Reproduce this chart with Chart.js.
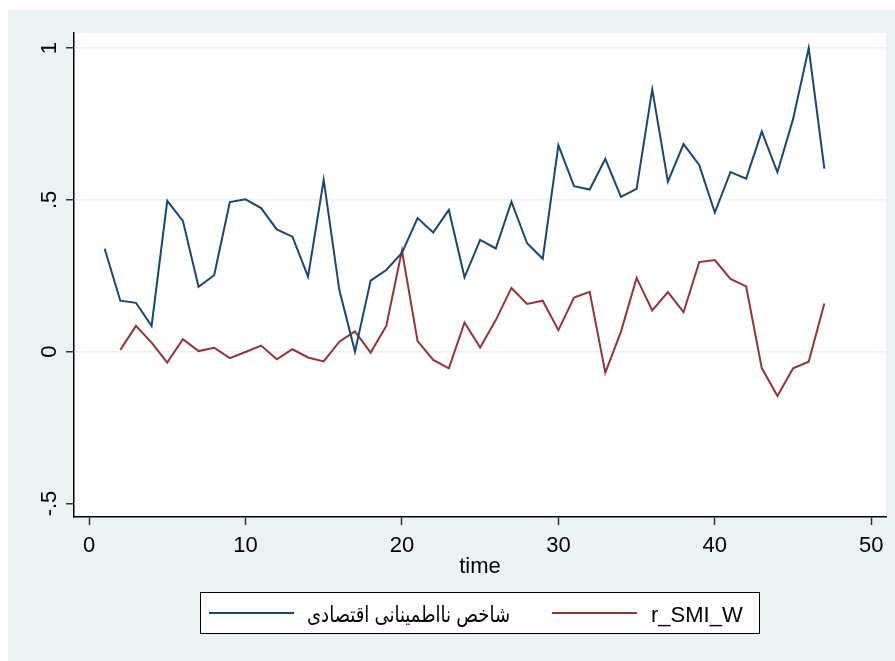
<!DOCTYPE html>
<html>
<head>
<meta charset="utf-8">
<script src="https://cdn.jsdelivr.net/npm/chart.js@4/dist/chart.umd.min.js"></script>
<style>
  body { margin: 0; background: #ffffff; }
  canvas { display: block; }
</style>
</head>
<body>
<canvas id="myChart" width="895" height="661"></canvas>
<script>
var time = [1, 2, 3, 4, 5, 6, 7, 8, 9, 10, 11, 12, 13, 14, 15, 16, 17, 18, 19, 20,
    21, 22, 23, 24, 25, 26, 27, 28, 29, 30, 31, 32, 33, 34, 35, 36, 37, 38, 39, 40,
    41, 42, 43, 44, 45, 46, 47];

var uncertainty = [0.339, 0.168, 0.161, 0.085, 0.497, 0.431, 0.214, 0.252, 0.493, 0.502,
    0.473, 0.403, 0.379, 0.247, 0.566, 0.203, 0.000, 0.234, 0.269, 0.325,
    0.440, 0.393, 0.467, 0.245, 0.368, 0.340, 0.494, 0.357, 0.306, 0.680,
    0.545, 0.534, 0.635, 0.510, 0.536, 0.864, 0.560, 0.684, 0.615, 0.458,
    0.592, 0.570, 0.725, 0.591, 0.766, 1.000, 0.603];

var rSMI = [null, 0.006, 0.085, 0.030, -0.036, 0.041, 0.002, 0.013, -0.021, -0.001,
    0.020, -0.025, 0.008, -0.019, -0.032, 0.033, 0.067, -0.003, 0.085, 0.333,
    0.035, -0.027, -0.055, 0.096, 0.014, 0.104, 0.210, 0.157, 0.168, 0.071,
    0.178, 0.197, -0.069, 0.066, 0.243, 0.136, 0.196, 0.130, 0.295, 0.302,
    0.240, 0.215, -0.054, -0.146, -0.055, -0.033, 0.159];

var seriesNames = ["شاخص نااطمینانی اقتصادی", "r_SMI_W"];

var xTicks = [0, 10, 20, 30, 40, 50];
var xTickLabels = ["0", "10", "20", "30", "40", "50"];
var yTicks = [-0.5, 0, 0.5, 1];
var yTickLabels = ["-.5", "0", ".5", "1"];

var FONT = "'Liberation Sans', Arial, 'DejaVu Sans', sans-serif";

function points(values) {
    return time.map(function (t, i) {
        return { x: t, y: values[i] };
    });
}

// background: outer light bluish gray, white plot region
var backgroundPlugin = {
    id: "background",
    beforeDraw: function (chart) {
        var ctx = chart.ctx;
        var a = chart.chartArea;
        ctx.save();
        ctx.fillStyle = "#ffffff";
        ctx.fillRect(0, 0, chart.width, chart.height);
        ctx.fillStyle = "#eaf2f3";
        ctx.fillRect(8, 10, chart.width - 8, chart.height - 10);
        ctx.fillStyle = "#ffffff";
        ctx.fillRect(a.left, a.top, a.right - a.left, a.bottom - a.top);
        ctx.restore();
    }
};

// Stata-like boxed legend under the x axis title
var legendPlugin = {
    id: "boxLegend",
    afterDraw: function (chart) {
        var ctx = chart.ctx;
        var ds = chart.data.datasets;
        ctx.save();
        ctx.fillStyle = "#ffffff";
        ctx.fillRect(200, 592, 559, 41);
        ctx.strokeStyle = "#000000";
        ctx.lineWidth = 1;
        ctx.strokeRect(200.5, 592.5, 559, 41);

        var keys = [
            { x1: 209, x2: 294, textX: 510, align: "right", maxW: 203 },
            { x1: 552, x2: 637, textX: 651, align: "left", maxW: 95 }
        ];
        ds.forEach(function (d, i) {
            var k = keys[i];
            ctx.strokeStyle = d.borderColor;
            ctx.lineWidth = 2;
            ctx.beginPath();
            ctx.moveTo(k.x1, 613);
            ctx.lineTo(k.x2, 613);
            ctx.stroke();

            ctx.fillStyle = "#000000";
            ctx.font = "22px " + FONT;
            ctx.textAlign = k.align;
            ctx.textBaseline = "alphabetic";
            var w = ctx.measureText(d.label).width;
            var sx = w > k.maxW ? k.maxW / w : 1;
            ctx.save();
            ctx.translate(k.textX, 621.5);
            ctx.scale(sx, 1);
            ctx.fillText(d.label, 0, 0);
            ctx.restore();
        });
        ctx.restore();
    }
};

var ctx = document.getElementById("myChart").getContext("2d");
var myChart = new Chart(ctx, {
    type: "line",
    data: {
        datasets: [
            {
                label: seriesNames[0],
                data: points(uncertainty),
                borderColor: "#1a476f",
                borderWidth: 2,
                pointRadius: 0,
                tension: 0,
                fill: false
            },
            {
                label: seriesNames[1],
                data: points(rSMI),
                borderColor: "#90353b",
                borderWidth: 2,
                pointRadius: 0,
                tension: 0,
                fill: false
            }
        ]
    },
    options: {
        responsive: false,
        animation: false,
        devicePixelRatio: 1,
        layout: {
            padding: { left: 0, top: 33, right: 9, bottom: 81 }
        },
        plugins: {
            legend: { display: false },
            tooltip: { enabled: false }
        },
        scales: {
            x: {
                type: "linear",
                min: -0.96,
                max: 50.94,
                afterBuildTicks: function (scale) {
                    scale.ticks = xTicks.map(function (v) { return { value: v }; });
                },
                afterFit: function (scale) {
                    scale.height = 63;
                },
                grid: {
                    drawOnChartArea: false,
                    tickLength: 8,
                    tickColor: "#333333",
                    tickWidth: 1.5
                },
                border: { display: true, color: "#000000", width: 1.5 },
                ticks: {
                    padding: 8,
                    color: "#000000",
                    font: { family: FONT, size: 22 },
                    maxRotation: 0,
                    autoSkip: false,
                    callback: function (value) {
                        var i = xTicks.indexOf(value);
                        return i >= 0 ? xTickLabels[i] : "";
                    }
                },
                title: {
                    display: true,
                    text: "time",
                    color: "#000000",
                    font: { family: FONT, size: 22 },
                    padding: { top: 0, bottom: 0 }
                }
            },
            y: {
                type: "linear",
                min: -0.5445,
                max: 1.0497,
                afterBuildTicks: function (scale) {
                    scale.ticks = yTicks.map(function (v) { return { value: v }; });
                },
                afterFit: function (scale) {
                    scale.width = 74;
                },
                grid: {
                    color: function (c) {
                        return c.tick && c.tick.value === -0.5 ? "rgba(0,0,0,0)" : "#eaf2f3";
                    },
                    lineWidth: 1.5,
                    tickLength: 8,
                    tickColor: "#333333",
                    tickWidth: 1.5
                },
                border: { display: true, color: "#000000", width: 1.5 },
                ticks: {
                    padding: 3,
                    color: "#000000",
                    font: { family: FONT, size: 22 },
                    minRotation: 90,
                    maxRotation: 90,
                    crossAlign: "center",
                    autoSkip: false,
                    callback: function (value) {
                        var i = yTicks.indexOf(value);
                        return i >= 0 ? yTickLabels[i] : "";
                    }
                }
            }
        }
    },
    plugins: [backgroundPlugin, legendPlugin]
});
</script>
</body>
</html>
